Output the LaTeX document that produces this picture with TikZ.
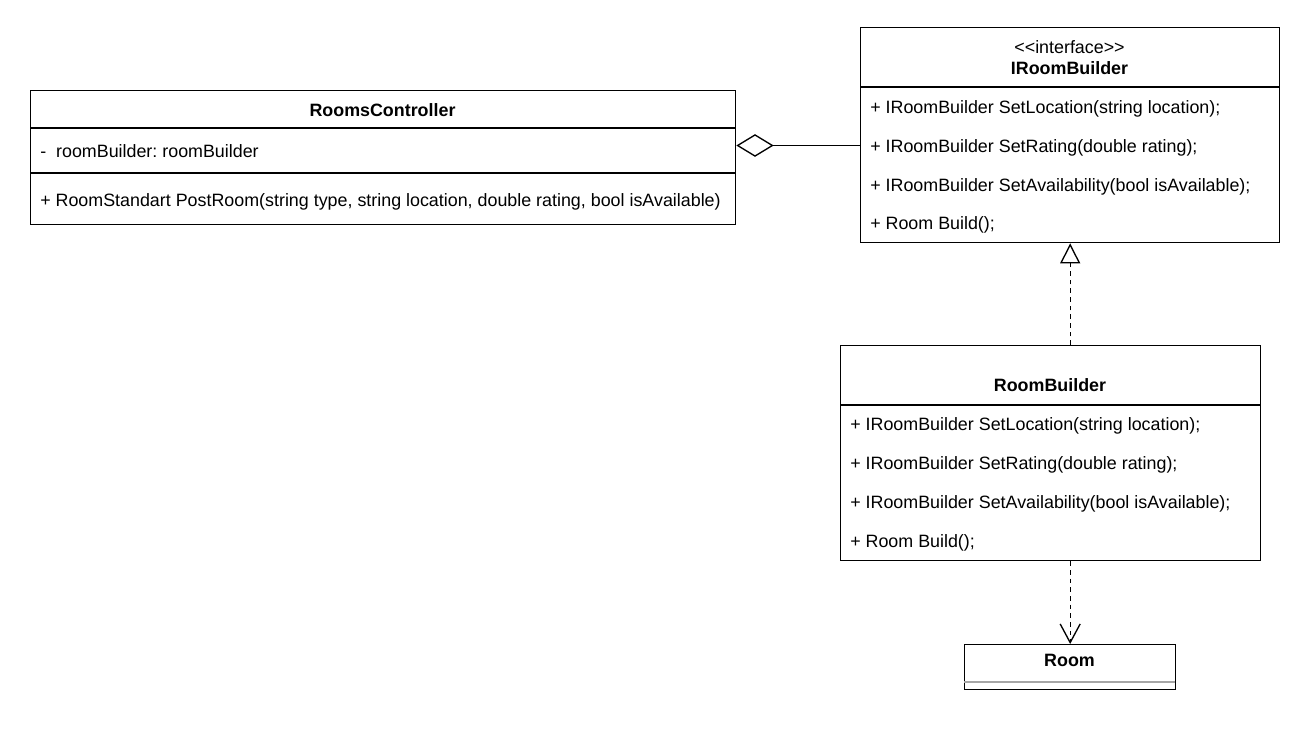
\documentclass[tikz,border=0pt]{standalone}
\usepackage{fontspec}
\setmainfont{Liberation Sans}
\usetikzlibrary{arrows.meta}
\tikzset{
  box/.style={draw, line width=1pt, inner sep=0, anchor=north west},
  row/.style={anchor=west, inner sep=0, yshift=-1.5pt, font=\fontsize{13.4}{16}\selectfont},
  title/.style={inner sep=0, font=\fontsize{13.4}{16}\selectfont\bfseries},
  conn/.style={line width=1pt},
  dashline/.style={conn, dash pattern=on 3.5pt off 3pt},
}
\frenchspacing
\begin{document}
\begin{tikzpicture}[x=0.75pt, y=-0.75pt]
			%%%%% START %%%%%
			\useasboundingbox (0,0) rectangle (1306,736);
			
			% RoomsController
			\node[box, minimum width=705*0.75pt, minimum height=134*0.75pt] (ctrl) at (30,90) {};
			\node[title] (ctrlname) at (382.5,110) {RoomsController};
			\draw[line width=1pt] (30,128) -- (735,128);
			\node[row] (ctrlattr) at (40,149) {-\ \ roomBuilder: roomBuilder};
			\draw[line width=1pt] (30,173) -- (735,173);
			\node[row] (ctrlop) at (40,200) {+ RoomStandart PostRoom(string type, string location, double rating, bool isAvailable)};
			
			% IRoomBuilder
			\node[box, minimum width=419*0.75pt, minimum height=215*0.75pt] (ib) at (860,27) {};
			\node[inner sep=0, font=\fontsize{13.4}{16}\selectfont] (ibstereo) at (1069.5,47) {{<}{<}interface{>}{>}};
			\node[title] (ibname) at (1069.5,68) {IRoomBuilder};
			\draw[line width=1pt] (860,87) -- (1279,87);
			\node[row] (ib1) at (870,107) {+ IRoomBuilder SetLocation(string location);};
			\node[row] (ib2) at (870,146) {+ IRoomBuilder SetRating(double rating);};
			\node[row] (ib3) at (870,185) {+ IRoomBuilder SetAvailability(bool isAvailable);};
			\node[row] (ib4) at (870,223) {+ Room Build();};
			\coordinate (ibport) at (860,145.5);
			
			% RoomBuilder
			\node[box, minimum width=420*0.75pt, minimum height=215*0.75pt] (rb) at (840,345) {};
			\node[title] (rbname) at (1050,385) {RoomBuilder};
			\draw[line width=1pt] (840,405) -- (1260,405);
			\node[row] (rb1) at (850,424) {+ IRoomBuilder SetLocation(string location);};
			\node[row] (rb2) at (850,463) {+ IRoomBuilder SetRating(double rating);};
			\node[row] (rb3) at (850,502) {+ IRoomBuilder SetAvailability(bool isAvailable);};
			\node[row] (rb4) at (850,541) {+ Room Build();};
			
			% Room
			\node[box, minimum width=211*0.75pt, minimum height=45*0.75pt] (room) at (964,644) {};
			\node[title] (roomname) at (1069.5,660) {Room};
			\draw[line width=1pt, color=black!35] (964,682) -- (1175,682);
			
			% connectors
			\draw[conn, {Diamond[open, length=28pt, width=17pt]}-] (ctrl.east |- ibport) -- (ibport);
			\draw[dashline, -{Triangle[open, length=15pt, width=15pt]}] (rb.north -| ib.south) -- (ib.south);
			\draw[dashline, -{Straight Barb[length=14pt, width=15pt]}] (room.north |- rb.south) -- (room.north);
			
			%%%%% END %%%%%
\end{tikzpicture}
\end{document}
